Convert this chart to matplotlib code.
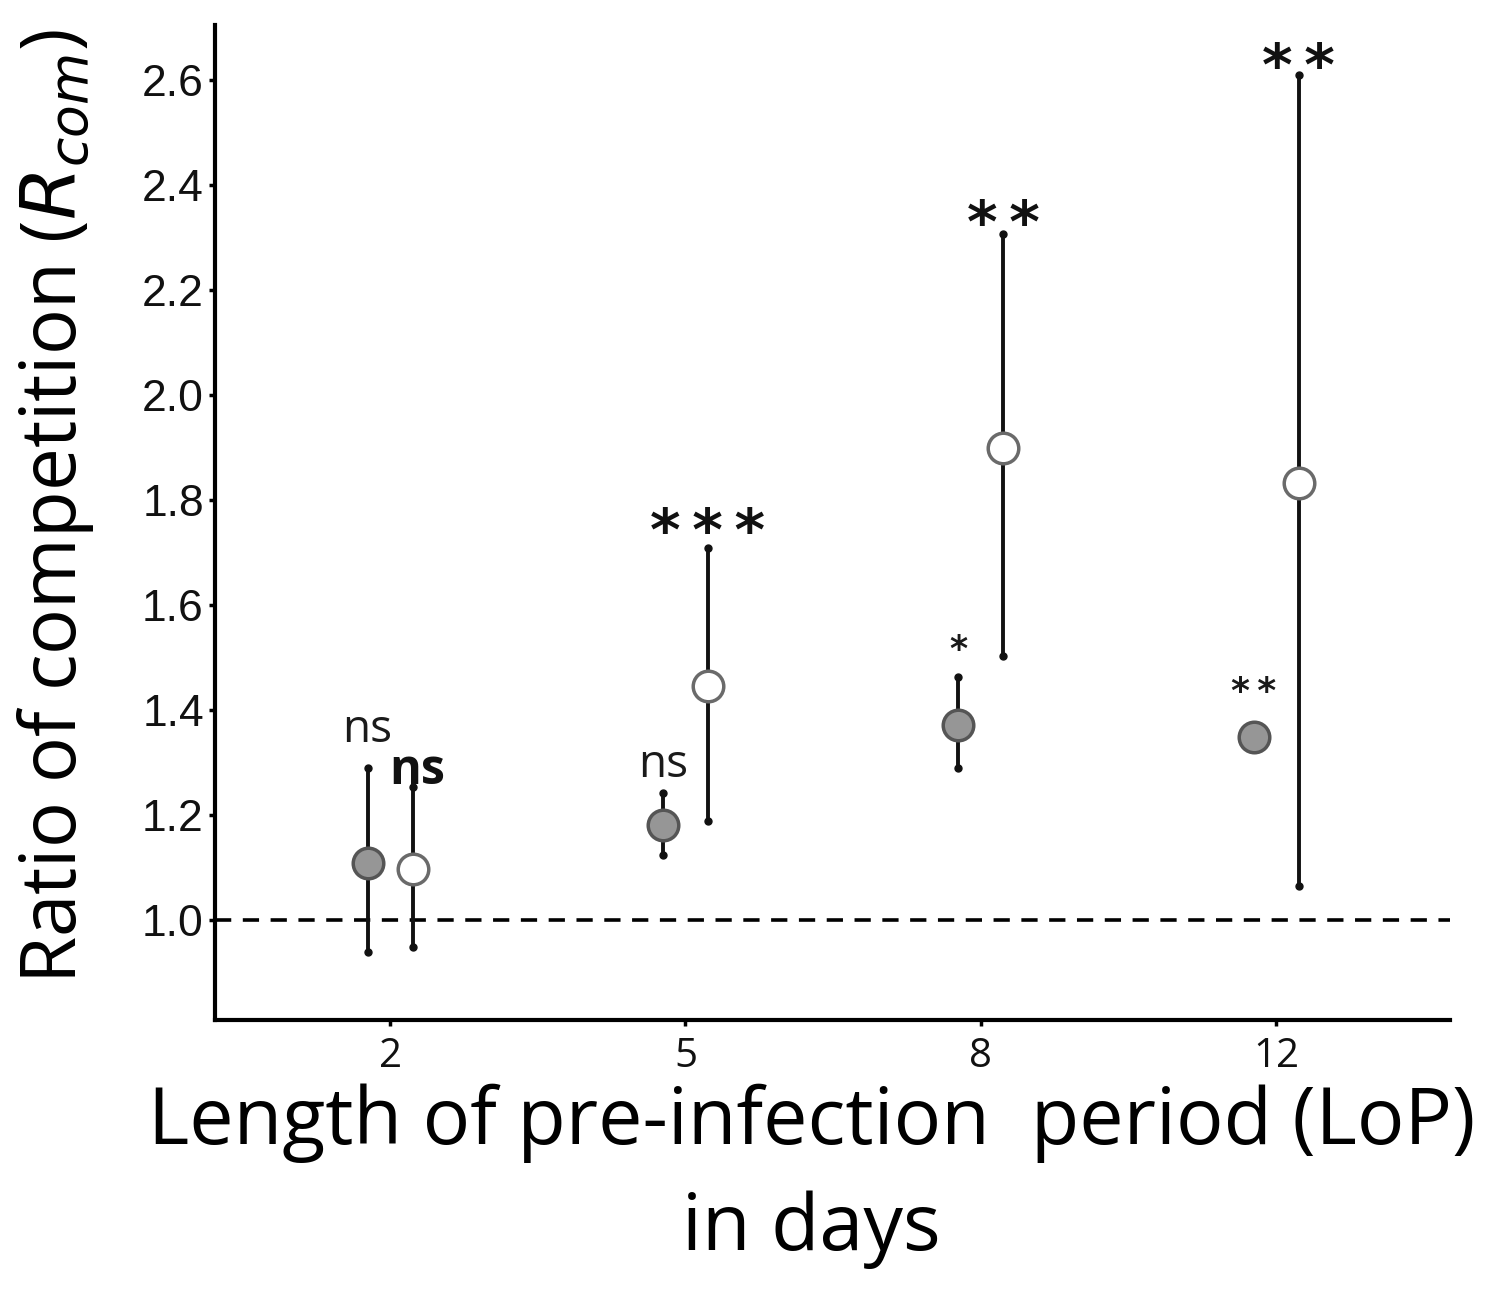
import numpy as np
import matplotlib
matplotlib.use('Agg')
import matplotlib.pyplot as plt

# 데이터
lop_days = ['2', '5', '8', '12']
grey_mean = [1.110, 1.181, 1.371, 1.349]
grey_low = [0.939, 1.124, 1.290, 1.349]
grey_high = [1.290, 1.242, 1.463, 1.349]
white_mean = [1.097, 1.446, 1.900, 1.832]
white_low = [0.949, 1.190, 1.503, 1.065]
white_high = [1.253, 1.709, 2.307, 2.610]
grey_sig = ['ns', 'ns', '*', '*\u2009*']
white_sig = ['ns', '*\u2009*\u2009*', '*\u2009*', '*\u2009*']
yticks = [1.0, 1.2, 1.4, 1.6, 1.8, 2.0, 2.2, 2.4, 2.6]

fig = plt.figure(figsize=(14.95, 12.93), dpi=100)
ax = fig.add_axes([0.1438, 0.2111, 0.8262, 0.7696])

x = np.arange(len(lop_days))
dodge = 0.076

ax.axhline(1.0, color='black', lw=2.6, ls=(0, (4.5, 3.2)), zorder=1)

def draw(xs, mean, low, high, face, edge):
    for xi, m, lo, hi in zip(xs, mean, low, high):
        if hi > lo:
            ax.plot([xi, xi], [lo, hi], color='#111111', lw=2.8, zorder=2,
                    solid_capstyle='butt')
            ax.plot([xi, xi], [lo, hi], 'o', color='#111111', ms=5, zorder=2)
        ax.plot(xi, m, 'o', ms=22, mfc=face, mec=edge, mew=2.5, zorder=3)

draw(x - dodge, grey_mean, grey_low, grey_high, '#969696', '#555555')
draw(x + dodge, white_mean, white_low, white_high, 'white', '#6a6a6a')

# 유의성 표시: 오차막대 위 (px 오프셋 -> pt)
PX = 0.72
grey_style = [dict(size=33, weight='normal', dy=38),
              dict(size=33, weight='normal', dy=28),
              dict(size=25, weight='bold', dy=27),
              dict(size=26, weight='bold', dy=45)]
white_style = [dict(size=35, weight='bold', dy=16),
               dict(size=42, weight='bold', dy=14),
               dict(size=42, weight='bold', dy=8),
               dict(size=42, weight='bold', dy=6)]
grey_top = [h if h > m else m for h, m in zip(grey_high, grey_mean)]
for i, lab in enumerate(grey_sig):
    st = grey_style[i]
    fam = 'Open Sans' if lab == 'ns' else 'DejaVu Sans'
    kw = {}
    if i == 3:
        kw['bbox'] = dict(facecolor='white', edgecolor='none', pad=3)
    ax.annotate(lab, (x[i] - dodge, grey_top[i]), xytext=(0, st['dy'] * PX),
                textcoords='offset points', ha='center', va='center',
                fontsize=st['size'], fontweight=st['weight'], family=fam,
                color='#1a1a1a', zorder=4, **kw)
for i, lab in enumerate(white_sig):
    st = white_style[i]
    fam = 'Open Sans' if lab == 'ns' else 'DejaVu Sans'
    ax.annotate(lab, (x[i] + dodge + (0.015 if i == 0 else 0), white_high[i]),
                xytext=(0, st['dy'] * PX),
                textcoords='offset points', ha='center', va='center',
                fontsize=st['size'], fontweight=st['weight'], family=fam,
                color='#111111', zorder=4)

ax.set_xlim(-0.593, 3.589)
ax.set_ylim(0.81, 2.705)
ax.set_xticks(x)
ax.set_xticklabels(lop_days)
ax.set_yticks(yticks)
ax.set_yticklabels([f'{v:.1f}' for v in yticks])
for lab in ax.get_xticklabels():
    lab.set_family('Open Sans')
    lab.set_fontsize(29)
    lab.set_color('#111111')
for lab in ax.get_yticklabels():
    lab.set_family('Liberation Sans')
    lab.set_fontsize(32)
    lab.set_color('#111111')
ax.tick_params(axis='y', length=4, width=2.5, pad=4)
ax.tick_params(axis='x', length=4, width=2.5, pad=8)

for s in ['top', 'right']:
    ax.spines[s].set_visible(False)
for s in ['left', 'bottom']:
    ax.spines[s].set_linewidth(3)

ax.set_xlabel('Length of pre-infection  period (LoP)\nin days', family='Open Sans',
              fontsize=57, linespacing=1.45)
ax.xaxis.set_label_coords(0.483, -0.064, transform=ax.transAxes)
ax.xaxis.label.set_va('top')
ax.set_ylabel('Ratio of competition ($\\mathit{R_{com}}$)', family='Open Sans',
              fontsize=55)
ax.yaxis.set_label_coords(-0.096, 0.516)

plt.savefig('out.png', dpi=100)
